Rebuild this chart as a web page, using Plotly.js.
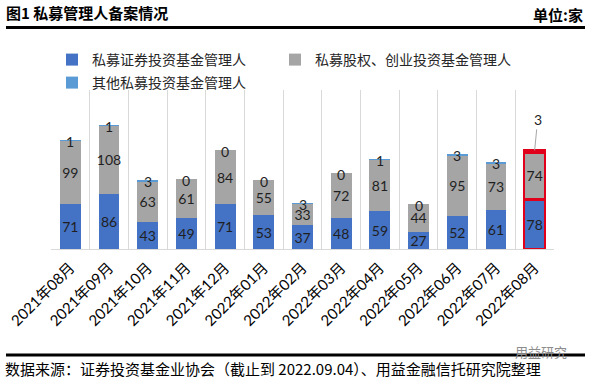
<!DOCTYPE html>
<html>
<head>
<meta charset="utf-8">
<script src="https://cdn.plot.ly/plotly-3.0.1.min.js"></script>
<style>
html,body{margin:0;padding:0;background:#fff;}
#chart{width:589px;height:379px;}
</style>
</head>
<body>
<div id="chart"></div>
<script>
const months = ['2021年08月','2021年09月','2021年10月','2021年11月','2021年12月','2022年01月','2022年02月','2022年03月','2022年04月','2022年05月','2022年06月','2022年07月','2022年08月'];
const securities = [71, 86, 43, 49, 71, 53, 37, 48, 59, 27, 52, 61, 78];
const equity = [99, 108, 63, 61, 84, 55, 33, 72, 81, 44, 95, 73, 74];
const other = [1, 1, 3, 0, 0, 0, 3, 0, 1, 0, 3, 3, 3];
const seriesNames = ['私募证券投资基金管理人', '私募股权、创业投资基金管理人', '其他私募投资基金管理人'];

const FONT = 'Lato, "Noto Sans CJK SC", sans-serif';
const CJK = '"Noto Sans CJK SC", sans-serif';
const last = months.length - 1;
const lineW = months.map((m, i) => i === last ? 2.5 : 0);
const lineC = months.map((m, i) => i === last ? '#E0001B' : 'rgba(0,0,0,0)');

const common = {
  type: 'bar', x: months, textposition: 'inside', insidetextanchor: 'middle',
  textangle: 0, textfont: {family: FONT, size: 14, color: '#1f1f1f'},
  hoverinfo: 'skip', cliponaxis: false
};
const traces = [
  Object.assign({}, common, {name: seriesNames[0], y: securities, text: securities.map(String),
    marker: {color: '#4472C4', line: {width: lineW, color: lineC}}, legend: 'legend'}),
  Object.assign({}, common, {name: seriesNames[1], y: equity, text: equity.map(String),
    marker: {color: '#A5A5A5', line: {width: lineW, color: lineC}}, legend: 'legend3'}),
  Object.assign({}, common, {name: seriesNames[2], y: other, textposition: 'none',
    marker: {color: '#5B9BD5', line: {width: lineW, color: lineC}}, legend: 'legend2'})
];

const totals = months.map((m, i) => securities[i] + equity[i] + other[i]);
const annotations = months.map((m, i) => i === last ? {
  x: m, y: totals[i], text: String(other[i]), showarrow: true, arrowhead: 0, arrowwidth: 1,
  arrowcolor: '#A6A6A6', ax: 3, ay: -31, standoff: 0,
  font: {family: FONT, size: 14, color: '#1f1f1f'}
} : {
  x: m, y: totals[i], text: String(other[i]), showarrow: false, yshift: -1.5,
  font: {family: FONT, size: 14, color: '#1f1f1f'}
});
annotations.push({
  xref: 'paper', yref: 'paper', x: -48/503, y: -119/159, xanchor: 'left', yanchor: 'middle',
  text: '数据来源：证券投资基金业协会（截止到 2022.09.04）、用益金融信托研究院整理',
  showarrow: false, font: {family: CJK, size: 15, color: '#000'}
});
annotations.push({
  xref: 'paper', yref: 'paper', x: 1.03, y: -102/159, xanchor: 'right', yanchor: 'middle',
  text: '用益研究', showarrow: false, font: {family: CJK, size: 13, color: '#8c8c8c'}
});
annotations.push({
  xref: 'paper', yref: 'paper', x: 1.061, y: 235/159, xanchor: 'right', yanchor: 'middle',
  text: '<b>单位:家</b>', showarrow: false, font: {family: CJK, size: 15, color: '#000'}
});

const legendBase = {orientation: 'h', xref: 'container', yref: 'container', yanchor: 'middle', xanchor: 'left',
  font: {family: CJK, size: 14, color: '#262626'}, bgcolor: 'rgba(0,0,0,0)'};

const layout = {
  width: 589, height: 379,
  margin: {l: 51, r: 35, t: 90, b: 130, pad: 0, autoexpand: false},
  paper_bgcolor: '#fff', plot_bgcolor: '#fff',
  barmode: 'stack', bargap: 0.46,
  title: {text: '<b>图1 私募管理人备案情况</b>', xref: 'container', yref: 'container', x: 6/589, xanchor: 'left',
    y: 1 - 14/379, yanchor: 'middle', font: {family: CJK, size: 15, color: '#000'}},
  xaxis: {type: 'category', tickson: 'boundaries', showgrid: true, gridcolor: '#D9D9D9', gridwidth: 1,
    showline: true, linecolor: '#D9D9D9', linewidth: 1, ticks: '', tickangle: -45, ticklabelstandoff: 3,
    tickfont: {family: FONT, size: 15, color: '#000'}, fixedrange: true},
  yaxis: {range: [0, 250], visible: false, showgrid: false, zeroline: false, fixedrange: true},
  uniformtext: {mode: 'show', minsize: 14},
  legend: Object.assign({}, legendBase, {x: 52/589, y: 1 - 60/379}),
  legend3: Object.assign({}, legendBase, {x: 275/589, y: 1 - 60/379}),
  legend2: Object.assign({}, legendBase, {x: 52/589, y: 1 - 83/379}),
  shapes: [
    {type: 'line', xref: 'paper', yref: 'paper', x0: -45/503, x1: 534/503, y0: 221.5/159, y1: 221.5/159, line: {color: '#000', width: 3}},
    {type: 'line', xref: 'paper', yref: 'paper', x0: -45/503, x1: 534/503, y0: -106/159, y1: -106/159, line: {color: '#000', width: 3}}
  ],
  annotations: annotations,
  showlegend: true
};
Plotly.newPlot('chart', traces, layout, {displayModeBar: false, staticPlot: true});
</script>
</body>
</html>
